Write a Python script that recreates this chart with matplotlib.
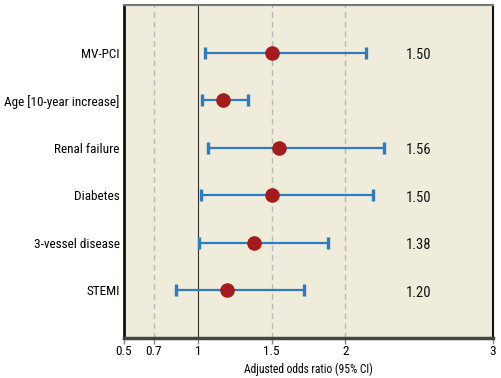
import matplotlib.pyplot as plt
import numpy as np

# forest plot data
labels = ['MV-PCI', 'Age [10-year increase]', 'Renal failure', 'Diabetes', '3-vessel disease', 'STEMI']
odds = [1.50, 1.17, 1.55, 1.50, 1.38, 1.20]
ci_low = [1.05, 1.03, 1.07, 1.02, 1.01, 0.85]
ci_high = [2.14, 1.34, 2.26, 2.19, 1.88, 1.72]
value_text = ['1.50', '', '1.56', '1.50', '1.38', '1.20']
xticks = [0.5, 0.7, 1, 1.5, 2, 3]
xtick_labels = ['0.5', '0.7', '1', '1.5', '2', '3']
dashed_at = [0.7, 1.5, 2]

plt.rcParams['font.family'] = ['Roboto Condensed', 'DejaVu Sans']
plt.rcParams['font.stretch'] = 'condensed'

fig = plt.figure(figsize=(5.02, 3.78), dpi=100)
ax = fig.add_axes([124/502, 1 - 338/378, (493-124)/502, (338-5)/378])
ax.set_facecolor('#f0ecdc')

ypos = np.arange(len(labels), 0, -1)

for d in dashed_at:
    ax.axvline(d, color='#b8b8b8', lw=1, ls=(0, (4, 3)), zorder=1)
ax.axvline(1, color='#333333', lw=0.8, zorder=1)

lo = np.array(odds) - np.array(ci_low)
hi = np.array(ci_high) - np.array(odds)
ax.errorbar(odds, ypos, xerr=[lo, hi], fmt='none', ecolor='#2f7bc1',
            elinewidth=1.6, capsize=4.5, capthick=2.4, zorder=2)
ax.scatter(odds, ypos, s=110, color='#a51a1a', zorder=3, linewidths=0)

for y, t in zip(ypos, value_text):
    if t:
        ax.text(2.41, y - 0.05, t, fontsize=10.5, va='center', ha='left', color='#111111')

ax.set_xlim(0.5, 3)
ax.set_ylim(0, 7)
ax.set_xticks(xticks)
ax.set_xticklabels(xtick_labels, fontsize=9.5)
ax.set_yticks(ypos)
ax.set_yticklabels(labels, fontsize=9.5)
ax.tick_params(axis='y', length=0, pad=3)
ax.tick_params(axis='x', length=4, width=1, color='#888888', pad=1)
ax.set_xlabel('Adjusted odds ratio (95% CI)', fontsize=8.3, labelpad=3)

ax.spines['left'].set_linewidth(2)
ax.spines['left'].set_color('#111111')
ax.spines['bottom'].set_linewidth(2.5)
ax.spines['bottom'].set_color('#444444')
ax.spines['top'].set_linewidth(1.5)
ax.spines['top'].set_color('#777777')
ax.spines['right'].set_linewidth(1.5)
ax.spines['right'].set_color('#111111')

fig.savefig('out.png', dpi=100, facecolor='white')
